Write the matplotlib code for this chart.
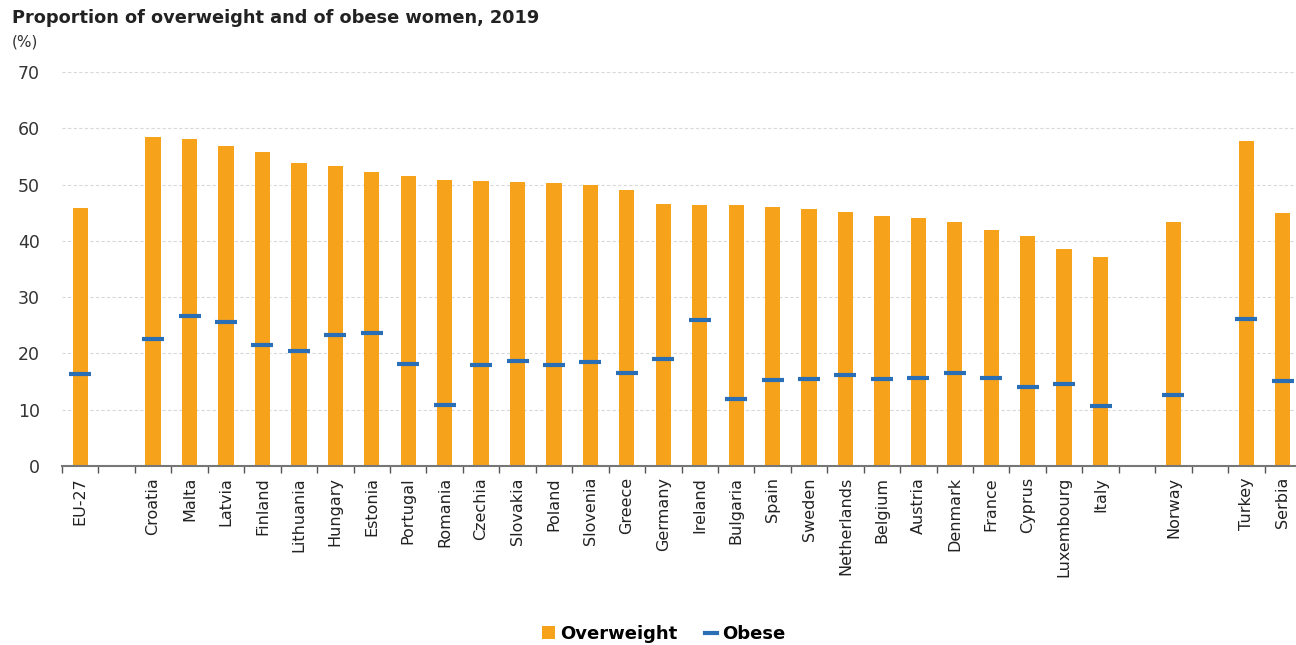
import matplotlib
matplotlib.use("Agg")
import matplotlib.pyplot as plt
from matplotlib.lines import Line2D
from matplotlib.patches import Patch
import numpy as np

plt.rcParams['font.family'] = ['DejaVu Sans']

# groups are separated by an empty slot
groups = [
    ["EU-27"],
    ["Croatia", "Malta", "Latvia", "Finland", "Lithuania", "Hungary", "Estonia",
     "Portugal", "Romania", "Czechia", "Slovakia", "Poland", "Slovenia", "Greece",
     "Germany", "Ireland", "Bulgaria", "Spain", "Sweden", "Netherlands", "Belgium",
     "Austria", "Denmark", "France", "Cyprus", "Luxembourg", "Italy"],
    ["Norway"],
    ["Turkey", "Serbia"],
]
overweight = [45.8,
              58.4, 58.1, 56.8, 55.8, 53.8, 53.3, 52.2, 51.5, 50.8, 50.6, 50.4, 50.3,
              49.9, 49.0, 46.5, 46.4, 46.3, 46.0, 45.6, 45.1, 44.5, 44.0, 43.3, 42.0,
              40.8, 38.5, 37.1,
              43.3,
              57.8, 44.9]
obese = [16.3,
         22.5, 26.7, 25.6, 21.5, 20.4, 23.3, 23.6, 18.1, 10.8, 17.9, 18.7, 17.9,
         18.4, 16.5, 19.0, 25.9, 11.9, 15.3, 15.5, 16.1, 15.5, 15.7, 16.5, 15.7,
         14.0, 14.6, 10.7,
         12.7,
         26.1, 15.1]

labels = []
pos = []
p = 0
for g in groups:
    for name in g:
        labels.append(name)
        pos.append(p)
        p += 1
    p += 1  # gap slot
pos = np.array(pos)
nslots = pos[-1] + 1

orange = '#F7A21B'
blue = '#2A6EB5'

fig = plt.figure(figsize=(12.96, 6.45), dpi=100)
ax = fig.add_axes([62 / 1296, (645 - 466) / 645, (1301 - 62) / 1296, 394 / 645])

ax.bar(pos, overweight, width=0.42, color=orange, zorder=2)
ax.plot(pos, obese, linestyle='none', marker='_', markersize=16,
        markeredgewidth=3.0, color=blue, zorder=3)

ax.set_xlim(-0.5, nslots - 0.5)
ax.set_ylim(0, 70)
ax.set_yticks(range(0, 71, 10))
ax.yaxis.grid(True, linestyle=(0, (3, 2)), color='#d9d9d9', linewidth=0.8, zorder=0)
ax.tick_params(axis='y', length=0, labelsize=12.5, pad=16, labelcolor='#333333')

ax.set_xticks(pos)
ax.set_xticklabels(labels, rotation=90, fontsize=11.5, color='#222222')
ax.set_xticks(np.arange(-0.5, nslots, 1), minor=True)
ax.tick_params(axis='x', which='major', length=0, pad=8)
ax.tick_params(axis='x', which='minor', length=5, width=1, color='#555555')

for s in ['top', 'right', 'left']:
    ax.spines[s].set_visible(False)
ax.spines['bottom'].set_color('#777777')
ax.spines['bottom'].set_linewidth(1.5)

fig.text(12 / 1296, 1 - 18 / 645, "Proportion of overweight and of obese women, 2019",
         fontsize=12.8, fontweight='bold', va='center', ha='left', color='#222222')
fig.text(12 / 1296, 1 - 42 / 645, "(%)", fontsize=11, va='center', ha='left',
         color='#333333')

handles = [Patch(facecolor=orange, label='Overweight'),
           Line2D([0], [0], color=blue, linewidth=3, label='Obese')]
fig.legend(handles=handles, loc='center', bbox_to_anchor=(664 / 1296, 1 - 634 / 645),
           ncol=2, frameon=False, handlelength=0.7, handleheight=0.7,
           handletextpad=0.3, columnspacing=1.5, prop={'weight': 'bold', 'size': 13})

fig.savefig("out.png", dpi=100)
